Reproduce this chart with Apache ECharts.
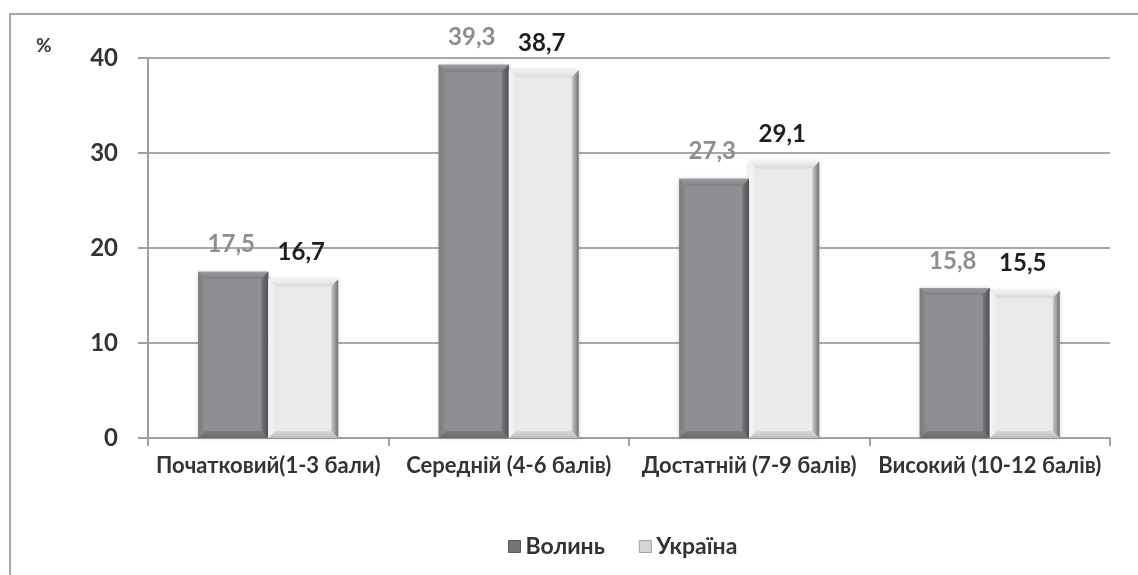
<!DOCTYPE html>
<html><head><meta charset="utf-8">
<script src="https://cdn.jsdelivr.net/npm/echarts@6/dist/echarts.min.js"></script>
<style>html,body{margin:0;padding:0;background:#fff}#c{width:1138px;height:575px}</style>
</head><body><div id="c"></div>
<script>
const categories = ['Початковий(1-3 бали)', 'Середній (4-6 балів)', 'Достатній (7-9 балів)', 'Високий (10-12 балів)'];
const volyn = [17.5, 39.3, 27.3, 15.8];
const ukraine = [16.7, 38.7, 29.1, 15.5];
const seriesNames = ['Волинь', 'Україна'];
const yTicks = [0, 10, 20, 30, 40];

const FONT = 'Lato, "Open Sans", sans-serif';
const fmt = p => String(p.value).replace('.', ',');
const BAR_W = 70, BEV = 7;

const lg = (x0, y0, x1, y1, c0, c1) => new echarts.graphic.LinearGradient(x0, y0, x1, y1, [{offset: 0, color: c0}, {offset: 1, color: c1}]);

// bevel overlay through the library's own scales (api.coord)
function bevel(side, pal) {
  return function (params, api) {
    const c = api.coord([api.value(0), api.value(1)]);
    const base = api.coord([api.value(0), 0]);
    const x0 = side === 0 ? c[0] - BAR_W : c[0];
    const x1 = x0 + BAR_W;
    const y0 = c[1], y1 = base[1];
    const b = BEV;
    const poly = (pts, fill) => ({type: 'polygon', shape: {points: pts}, style: {fill: fill}, silent: true});
    return {
      type: 'group',
      children: [
        poly([[x0, y0], [x1, y0], [x1 - b, y0 + b], [x0 + b, y0 + b]], lg(0, 0, 0, 1, pal.top0, pal.top1)),
        poly([[x0, y1], [x1, y1], [x1 - b, y1 - b], [x0 + b, y1 - b]], lg(0, 1, 0, 0, pal.bot0, pal.bot1)),
        poly([[x0, y0], [x0 + b, y0 + b], [x0 + b, y1 - b], [x0, y1]], lg(0, 0, 1, 0, pal.left0, pal.left1)),
        poly([[x1, y0], [x1 - b, y0 + b], [x1 - b, y1 - b], [x1, y1]], lg(1, 0, 0, 0, pal.right0, pal.right1))
      ]
    };
  };
}
const darkPal = {top0: '#9c9da0', top1: '#7f8083', bot0: '#68696b', bot1: '#7c7d80', left0: '#7a7b7e', left1: '#8c8d90', right0: '#4f5052', right1: '#76777a'};
const lightPal = {top0: '#f4f4f4', top1: '#d6d7d7', bot0: '#bdbebe', bot1: '#d8d9d9', left0: '#f6f6f6', left1: '#eaebeb', right0: '#6f7071', right1: '#cbcccc'};

const chart = echarts.init(document.getElementById('c'), null, {renderer: 'canvas'});
chart.setOption({
  animation: false,
  backgroundColor: '#fff',
  textStyle: {fontFamily: FONT},
  graphic: [
    {type: 'rect', shape: {x: 10, y: 14, width: 1300, height: 700}, style: {fill: 'none', stroke: '#a6a6a6', lineWidth: 2}, silent: true},
    {type: 'text', left: 36, top: 36, style: {text: '%', font: 'bold 19px ' + FONT, fill: '#3a3a3a'}}
  ],
  grid: {left: 148, right: 28, top: 58, bottom: 137, containLabel: false},
  legend: {
    data: [
      {name: seriesNames[0], itemStyle: {color: '#737477', borderColor: '#58595b', borderWidth: 1}},
      {name: seriesNames[1], itemStyle: {color: '#d4d5d5', borderColor: '#a0a1a1', borderWidth: 1}}
    ],
    bottom: 12, left: 503, itemWidth: 12, itemHeight: 12, itemGap: 34,
    icon: 'rect',
    textStyle: {fontSize: 23, color: '#333', fontFamily: FONT, fontWeight: 'bold'}
  },
  xAxis: {
    type: 'category', data: categories,
    axisLine: {lineStyle: {color: '#a0a0a0', width: 2}},
    axisTick: {show: true, length: 8, lineStyle: {color: '#a0a0a0', width: 2}},
    axisLabel: {fontSize: 22, color: '#333', margin: 17, fontFamily: FONT, fontWeight: 'bold', interval: 0, hideOverlap: false}
  },
  yAxis: {
    type: 'value', min: yTicks[0], max: yTicks[yTicks.length - 1], interval: 10,
    axisLine: {show: true, lineStyle: {color: '#a0a0a0', width: 2}},
    axisTick: {show: true, length: 10, lineStyle: {color: '#a0a0a0', width: 2}},
    splitLine: {lineStyle: {color: '#a8a8a8', width: 2}},
    axisLabel: {fontSize: 24, fontWeight: 'bold', color: '#333', margin: 30, fontFamily: FONT}
  },
  series: [
    {
      name: seriesNames[0], type: 'bar', data: volyn, barWidth: BAR_W, barGap: '0%',
      itemStyle: {color: '#8e8f92', shadowBlur: 4, shadowColor: 'rgba(0,0,0,0.18)'},
      label: {show: true, position: 'top', distance: 15, offset: [-2, 0], formatter: fmt,
        fontSize: 24, fontWeight: 'bold', color: '#8e8e8e', fontFamily: FONT}
    },
    {
      name: seriesNames[1], type: 'bar', data: ukraine, barWidth: BAR_W, barGap: '0%',
      itemStyle: {color: '#e9eaea', shadowBlur: 4, shadowColor: 'rgba(0,0,0,0.18)'},
      label: {show: true, position: 'top', distance: 15, offset: [-2, 0], formatter: fmt,
        fontSize: 24, fontWeight: 'bold', color: '#1e1e1e', fontFamily: FONT}
    },
    {
      type: 'custom', name: 'bevel-v', silent: true, z: 3,
      renderItem: bevel(0, darkPal), encode: {x: 0, y: 1},
      data: volyn.map((v, i) => [i, v])
    },
    {
      type: 'custom', name: 'bevel-u', silent: true, z: 3,
      renderItem: bevel(1, lightPal), encode: {x: 0, y: 1},
      data: ukraine.map((v, i) => [i, v])
    }
  ]
});
</script></body></html>
